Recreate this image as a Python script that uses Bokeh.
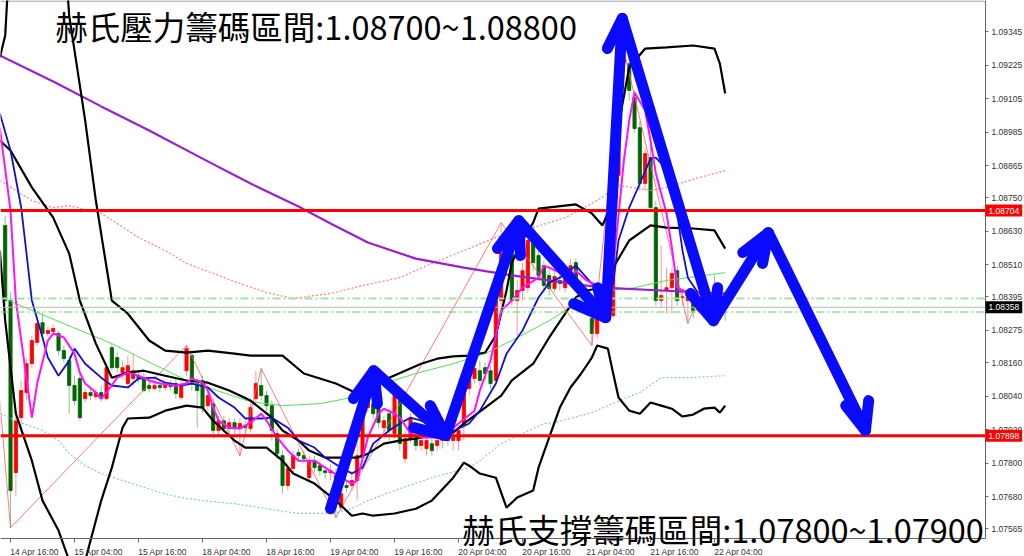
from bokeh.plotting import figure
from bokeh.models import Range1d, FixedTicker, PrintfTickFormatter, Label
from bokeh.embed import file_html
from bokeh.resources import INLINE

# ---------------- hourly candles (bar index 0..135) ----------------
opens = [1.08651, 1.08382, 1.07766, 1.07963, 1.08053, 1.08156, 1.08232, 1.08303, 1.08264, 1.08271,
         1.08264, 1.08203, 1.08167, 1.08078, 1.08103, 1.08031, 1.08053, 1.08038, 1.08053, 1.08031,
         1.08214, 1.08178, 1.08124, 1.08085, 1.08103, 1.08113, 1.08106, 1.08078, 1.08067, 1.08078,
         1.08071, 1.08078, 1.08085, 1.08035, 1.08131, 1.08185, 1.08085, 1.08096, 1.08006, 1.08013,
         1.07917, 1.07952, 1.07924, 1.07945, 1.07924, 1.07935, 1.07924, 1.08031, 1.08078, 1.08042,
         1.08006, 1.07906, 1.07827, 1.07720, 1.07781, 1.07838, 1.07827, 1.07748, 1.07809, 1.07791,
         1.07773, 1.07766, 1.07755, 1.07641, 1.07720, 1.07720, 1.07738, 1.07820, 1.07999, 1.08013,
         1.07995, 1.07927, 1.07977, 1.07906, 1.08024, 1.07816, 1.07888, 1.07892, 1.07863, 1.07852,
         1.07870, 1.07863, 1.07881, 1.07892, 1.07881, 1.07881, 1.07935, 1.08067, 1.08103, 1.08131,
         1.08142, 1.08131, 1.08096, 1.08382, 1.08543, 1.08550, 1.08382, 1.08418, 1.08428, 1.08633,
         1.08543, 1.08507, 1.08472, 1.08425, 1.08454, 1.08428, 1.08479, 1.08518, 1.08443, 1.08418,
         1.08318, 1.08264, 1.08310, 1.08318, 1.08328, 1.08830, 1.09234, 1.09230, 1.09109, 1.09001,
         1.08801, 1.08894, 1.08715, 1.08382, 1.08418, 1.08428, 1.08489, 1.08393, 1.08382, 1.08393,
         1.08346, 1.08371, 1.08339, 1.08428, 1.08382, 1.08400]
closes = [1.08382, 1.07702, 1.07952, 1.08060, 1.08156, 1.08239, 1.08300, 1.08264, 1.08275, 1.08282,
          1.08203, 1.08174, 1.08078, 1.08024, 1.07963, 1.08053, 1.08042, 1.08053, 1.08031, 1.08142,
          1.08142, 1.08142, 1.08142, 1.08149, 1.08131, 1.08103, 1.08060, 1.08067, 1.08078, 1.08071,
          1.08078, 1.08074, 1.08049, 1.08078, 1.08210, 1.08085, 1.08060, 1.07999, 1.08042, 1.07917,
          1.07952, 1.07924, 1.07945, 1.07924, 1.07942, 1.07927, 1.07999, 1.08085, 1.08042, 1.08006,
          1.07917, 1.07834, 1.07720, 1.07781, 1.07827, 1.07827, 1.07816, 1.07809, 1.07784, 1.07773,
          1.07766, 1.07773, 1.07745, 1.07691, 1.07713, 1.07738, 1.07827, 1.07999, 1.08042, 1.07977,
          1.07945, 1.07952, 1.07917, 1.08042, 1.07870, 1.07888, 1.07960, 1.07863, 1.07881, 1.07881,
          1.07845, 1.07881, 1.07892, 1.07881, 1.07892, 1.07917, 1.08078, 1.08113, 1.08139, 1.08096,
          1.08121, 1.08085, 1.08382, 1.08550, 1.08507, 1.08382, 1.08418, 1.08489, 1.08597, 1.08518,
          1.08472, 1.08436, 1.08425, 1.08468, 1.08443, 1.08464, 1.08507, 1.08443, 1.08418, 1.08346,
          1.08264, 1.08318, 1.08335, 1.08339, 1.08830, 1.09241, 1.09248, 1.09134, 1.08998, 1.08801,
          1.08908, 1.08715, 1.08382, 1.08400, 1.08428, 1.08479, 1.08382, 1.08396, 1.08393, 1.08346,
          1.08371, 1.08339, 1.08375, 1.08382, 1.08400, 1.08358]
highs = [1.08686, 1.08411, 1.07970, 1.08096, 1.08174, 1.08257, 1.08318, 1.08339, 1.08292, 1.08296,
         1.08275, 1.08221, 1.08185, 1.08113, 1.08124, 1.08067, 1.08067, 1.08067, 1.08078, 1.08160,
         1.08228, 1.08196, 1.08167, 1.08185, 1.08192, 1.08131, 1.08124, 1.08096, 1.08096, 1.08096,
         1.08092, 1.08096, 1.08103, 1.08096, 1.08221, 1.08196, 1.08103, 1.08113, 1.08060, 1.08031,
         1.07970, 1.07970, 1.07963, 1.07960, 1.07960, 1.07952, 1.08017, 1.08131, 1.08139, 1.08060,
         1.08024, 1.07924, 1.07845, 1.07802, 1.07845, 1.07852, 1.07845, 1.07827, 1.07827, 1.07809,
         1.07791, 1.07798, 1.07781, 1.07709, 1.07738, 1.07773, 1.07881, 1.08024, 1.08131, 1.08031,
         1.08013, 1.07970, 1.07995, 1.08060, 1.08042, 1.07917, 1.07981, 1.07909, 1.07899, 1.07895,
         1.07888, 1.07895, 1.07906, 1.07909, 1.07917, 1.07935, 1.08113, 1.08131, 1.08167, 1.08167,
         1.08160, 1.08149, 1.08400, 1.08661, 1.08579, 1.08579, 1.08454, 1.08518, 1.08615, 1.08651,
         1.08561, 1.08525, 1.08497, 1.08497, 1.08525, 1.08489, 1.08532, 1.08532, 1.08461, 1.08436,
         1.08339, 1.08339, 1.08364, 1.08364, 1.08847, 1.09259, 1.09277, 1.09259, 1.09134, 1.09026,
         1.08926, 1.08955, 1.08740, 1.08579, 1.08500, 1.08497, 1.08507, 1.08418, 1.08418, 1.08411,
         1.08389, 1.08389, 1.08400, 1.08472, 1.08436, 1.08418]
lows = [1.08364, 1.07569, 1.07684, 1.07935, 1.08024, 1.08139, 1.08221, 1.08246, 1.08253, 1.08257,
        1.08185, 1.08160, 1.07977, 1.08006, 1.07952, 1.08017, 1.08024, 1.08028, 1.08020, 1.08024,
        1.08131, 1.08124, 1.08103, 1.08067, 1.08078, 1.08088, 1.08053, 1.08053, 1.08060, 1.08053,
        1.08060, 1.08060, 1.08031, 1.08024, 1.08113, 1.08060, 1.07927, 1.07981, 1.07988, 1.07888,
        1.07899, 1.07909, 1.07909, 1.07906, 1.07827, 1.07909, 1.07909, 1.08017, 1.08024, 1.07988,
        1.07881, 1.07816, 1.07691, 1.07702, 1.07766, 1.07809, 1.07802, 1.07738, 1.07766, 1.07755,
        1.07745, 1.07738, 1.07605, 1.07630, 1.07695, 1.07702, 1.07666, 1.07809, 1.07981, 1.07960,
        1.07924, 1.07909, 1.07881, 1.07888, 1.07845, 1.07802, 1.07874, 1.07845, 1.07845, 1.07827,
        1.07827, 1.07845, 1.07852, 1.07863, 1.07845, 1.07845, 1.07881, 1.08042, 1.08085, 1.08078,
        1.08096, 1.08067, 1.08085, 1.08364, 1.08472, 1.08364, 1.08257, 1.08382, 1.08411, 1.08489,
        1.08454, 1.08411, 1.08400, 1.08411, 1.08418, 1.08411, 1.08461, 1.08428, 1.08382, 1.08328,
        1.08221, 1.08246, 1.08303, 1.08310, 1.08318, 1.08812, 1.09170, 1.09098, 1.08983, 1.08776,
        1.08776, 1.08704, 1.08364, 1.08357, 1.08335, 1.08335, 1.08364, 1.08364, 1.08300, 1.08318,
        1.08335, 1.08318, 1.08318, 1.08364, 1.08371, 1.08310]
bars = list(range(len(opens)))

# ---------------- indicators (bar index, price) ----------------
ma200_x = [-1, 9, 18, 27, 37, 46, 55, 61, 68, 77, 86, 95, 105, 112, 123, 135]
ma200_y = [1.09259, 1.09166, 1.09077, 1.08991, 1.08890, 1.08801, 1.08719, 1.08658, 1.08590, 1.08532,
           1.08500, 1.08472, 1.08446, 1.08428, 1.08418, 1.08407]

ma_blue_x = [-1, 1, 3, 4, 5, 7, 8, 10, 12, 13, 15, 18, 20, 23, 25, 28, 30, 33, 35, 38, 40, 43, 45, 48, 50,
             53, 55, 58, 60, 63, 65, 67, 69, 72, 74, 76, 78, 83, 87, 89, 92, 94, 97, 100, 102, 104, 107,
             110, 112, 114, 115, 117, 119, 121, 122, 123, 125, 126, 127, 128, 130, 135]
ma_blue_y = [1.09052, 1.08919, 1.08715, 1.08550, 1.08382, 1.08250, 1.08178, 1.08113, 1.08167, 1.08210,
             1.08156, 1.08106, 1.08078, 1.08071, 1.08103, 1.08106, 1.08088, 1.08078, 1.08085, 1.08071,
             1.08035, 1.07999, 1.07960, 1.07960, 1.07963, 1.07927, 1.07881, 1.07856, 1.07820, 1.07784,
             1.07763, 1.07784, 1.07870, 1.07917, 1.07942, 1.07963, 1.07952, 1.07906, 1.07942, 1.07988,
             1.08085, 1.08192, 1.08275, 1.08393, 1.08446, 1.08464, 1.08507, 1.08443, 1.08393, 1.08443,
             1.08597, 1.08715, 1.08801, 1.08890, 1.08894, 1.08873, 1.08787, 1.08694, 1.08561, 1.08464,
             1.08407, 1.08382]

ma_magenta_x = [-1, 1, 2, 5, 6, 8, 9, 11, 13, 14, 15, 17, 18, 19, 21, 23, 25, 27, 29, 32, 34, 35, 37, 38,
                39, 40, 42, 44, 46, 48, 49, 51, 53, 55, 58, 60, 63, 65, 66, 68, 70, 71, 73, 74, 76, 78,
                82, 85, 88, 89, 91, 93, 95, 97, 100, 101, 102, 104, 106, 107, 109, 111, 113, 114, 115,
                116, 117, 118, 120, 121, 122, 124, 125, 126, 128, 130, 135]
ma_magenta_y = [1.09001, 1.08704, 1.08382, 1.07963, 1.08085, 1.08239, 1.08264, 1.08250, 1.08192, 1.08124,
                1.08085, 1.08053, 1.08031, 1.08053, 1.08106, 1.08124, 1.08113, 1.08096, 1.08085, 1.08078,
                1.08085, 1.08103, 1.08088, 1.08060, 1.07999, 1.07952, 1.07927, 1.07924, 1.07945, 1.07977,
                1.07952, 1.07892, 1.07845, 1.07809, 1.07809, 1.07784, 1.07748, 1.07727, 1.07738, 1.07892,
                1.07977, 1.07995, 1.07977, 1.07963, 1.07906, 1.07892, 1.07892, 1.07942, 1.07988, 1.08060,
                1.08167, 1.08346, 1.08382, 1.08428, 1.08464, 1.08507, 1.08500, 1.08482, 1.08464, 1.08489,
                1.08454, 1.08436, 1.08407, 1.08507, 1.08686, 1.08883, 1.09026, 1.09127, 1.09062, 1.08955,
                1.08837, 1.08694, 1.08572, 1.08428, 1.08411, 1.08407, 1.08389]

bb_mid_x = [-1, 1, 5, 9, 12, 14, 17, 20, 23, 26, 30, 34, 38, 42, 46, 50, 52, 55, 57, 60, 66, 68, 71, 74,
            77, 80, 84, 86, 90, 93, 95, 99, 102, 105, 107, 109, 112, 114, 117, 121, 124, 129, 133, 135]
bb_mid_y = [1.08955, 1.08919, 1.08787, 1.08679, 1.08550, 1.08382, 1.08228, 1.08106, 1.08124, 1.08131,
            1.08113, 1.08096, 1.08088, 1.08060, 1.08024, 1.07963, 1.07917, 1.07881, 1.07845, 1.07820,
            1.07820, 1.07834, 1.07870, 1.07881, 1.07888, 1.07899, 1.07909, 1.07942, 1.07999, 1.08042,
            1.08096, 1.08156, 1.08250, 1.08335, 1.08393, 1.08418, 1.08428, 1.08500, 1.08597, 1.08651,
            1.08643, 1.08640, 1.08633, 1.08568]

bb_up_x = [-1, 0, 1, 11, 12, 15, 17, 20, 23, 27, 30, 34, 38, 43, 46, 52, 56, 62, 66, 70, 72, 75, 78, 81,
           84, 87, 90, 92, 94, 95, 97, 99, 100, 107, 110, 112, 114, 115, 117, 120, 124, 129, 133, 134, 135]
bb_up_y = [1.09252, 1.09331, 1.09671, 1.09671, 1.09402, 1.09026, 1.08740, 1.08382, 1.08335, 1.08239,
           1.08203, 1.08196, 1.08203, 1.08192, 1.08185, 1.08185, 1.08121, 1.08085, 1.08049, 1.08085,
           1.08106, 1.08131, 1.08156, 1.08174, 1.08182, 1.08185, 1.08196, 1.08257, 1.08418, 1.08518,
           1.08597, 1.08661, 1.08711, 1.08726, 1.08694, 1.08651, 1.08740, 1.09009, 1.09216, 1.09284,
           1.09288, 1.09295, 1.09284, 1.09230, 1.09123]

bb_low_x = [-1, 0, 2, 5, 7, 10, 12, 15, 18, 20, 22, 23, 27, 30, 34, 37, 39, 43, 45, 49, 52, 54, 58, 62,
            65, 67, 69, 73, 77, 80, 84, 86, 87, 89, 92, 94, 96, 99, 100, 102, 104, 106, 108, 110, 111,
            113, 114, 115, 117, 119, 121, 123, 125, 127, 129, 131, 133, 134, 135]
bb_low_y = [1.08561, 1.08310, 1.07977, 1.07809, 1.07666, 1.07559, 1.07451, 1.07451, 1.07666, 1.07784,
            1.07927, 1.07960, 1.07963, 1.07988, 1.08006, 1.07999, 1.07952, 1.07881, 1.07856, 1.07856,
            1.07809, 1.07763, 1.07727, 1.07666, 1.07612, 1.07620, 1.07612, 1.07620, 1.07637, 1.07666,
            1.07748, 1.07802, 1.07791, 1.07763, 1.07748, 1.07641, 1.07677, 1.07702, 1.07784, 1.07892,
            1.07999, 1.08071, 1.08121, 1.08178, 1.08221, 1.08210, 1.08121, 1.08035, 1.07988, 1.07977,
            1.08017, 1.08006, 1.07995, 1.07967, 1.07974, 1.07995, 1.07999, 1.07981, 1.08006]

ma_green_x = [0, 2, 20, 34, 46, 52, 59, 65, 71, 77, 84, 90, 95, 102, 108, 113, 118, 124, 135]
ma_green_y = [1.08389, 1.08371, 1.08228, 1.08096, 1.08020, 1.08006, 1.08013, 1.08035, 1.08085, 1.08121,
              1.08156, 1.08192, 1.08239, 1.08310, 1.08382, 1.08418, 1.08428, 1.08454, 1.08482]

env_red_x = [-1, 5, 9, 12, 18, 21, 25, 30, 34, 39, 44, 49, 54, 58, 61, 67, 74, 80, 86, 92, 99, 105, 111,
             115, 121, 124, 127, 130, 135]
env_red_y = [1.08812, 1.08740, 1.08715, 1.08722, 1.08694, 1.08658, 1.08608, 1.08561, 1.08515, 1.08479,
             1.08443, 1.08411, 1.08389, 1.08400, 1.08407, 1.08436, 1.08464, 1.08515, 1.08561, 1.08608,
             1.08643, 1.08679, 1.08740, 1.08794, 1.08776, 1.08787, 1.08804, 1.08822, 1.08847]

env_blue_x = [-1, 3, 7, 10, 12, 15, 18, 22, 25, 29, 33, 37, 43, 49, 55, 61, 64, 68, 74, 80, 87, 89, 93,
              101, 103, 110, 116, 119, 123, 128, 135]
env_blue_y = [1.07977, 1.07945, 1.07917, 1.07881, 1.07834, 1.07791, 1.07763, 1.07738, 1.07720, 1.07695,
              1.07677, 1.07666, 1.07655, 1.07637, 1.07620, 1.07620, 1.07630, 1.07666, 1.07709, 1.07748,
              1.07784, 1.07809, 1.07870, 1.07942, 1.07945, 1.07981, 1.08031, 1.08053, 1.08106, 1.08106,
              1.08113]

zigzag_x = [-1, 1, 34, 44, 48, 62, 93, 110, 116, 128, 130]
zigzag_y = [1.08024, 1.07569, 1.08221, 1.07827, 1.08139, 1.07605, 1.08661, 1.08221, 1.09277, 1.08300, 1.08389]

# ---------------- levels ----------------
resistance = 1.08704
support = 1.07898
last_price = 1.08358
green_levels = [1.08389, 1.08341]

# ---------------- hand-drawn forecast arrows (bar index, price) ----------------
arrow_path_x = [61.0, 69.1, 82.6, 96.3, 112.6, 115.7, 132.8, 143.1, 161.3]
arrow_path_y = [1.07637, 1.08131, 1.07899, 1.08668, 1.08321, 1.09392, 1.08310, 1.08625, 1.07917]
arrow_heads_x = [[65.3, 69.1, 69.8], [79.7, 82.6, 76.6], [92.3, 96.3, 96.6], [106.6, 112.6, 111.1],
                 [112.9, 115.7], [128.5, 132.8, 133.6], [138.3, 143.1, 142.0], [157.6, 161.3, 161.9]]
arrow_heads_y = [[1.08031, 1.08131, 1.08013], [1.08006, 1.07899, 1.07927], [1.08568, 1.08668, 1.08543],
                 [1.08371, 1.08321, 1.08428], [1.09284, 1.09392], [1.08407, 1.08310, 1.08428],
                 [1.08554, 1.08625, 1.08515], [1.08006, 1.07917, 1.08024]]

# ---------------- axes ----------------
x_tick_bars = [1, 13, 25, 37, 49, 61, 73, 85, 97, 109, 121, 133]
x_tick_labels = ["14 Apr 16:00", "15 Apr 04:00", "15 Apr 16:00", "18 Apr 04:00", "18 Apr 16:00",
                 "19 Apr 04:00", "19 Apr 16:00", "20 Apr 04:00", "20 Apr 16:00", "21 Apr 04:00",
                 "21 Apr 16:00", "22 Apr 04:00"]
y_ticks = [1.09345, 1.09225, 1.09105, 1.08985, 1.08865, 1.08750, 1.08630, 1.08510, 1.08395,
           1.08275, 1.08160, 1.08040, 1.07920, 1.07800, 1.07680, 1.07565]

title_top = "赫氏壓力籌碼區間:1.08700~1.08800"
title_bottom = "赫氏支撐籌碼區間:1.07800~1.07900"

# ---------------- layout constants ----------------
X0, X1 = -0.88, 191.12          # visible bar span of the whole canvas
Y0, Y1 = 1.07466, 1.09456       # visible price span of the whole canvas
AXIS_X = 183.81                 # price axis position (chart right edge)
AXIS_Y = 1.07530                # time axis position (chart bottom edge)

p = figure(width=1024, height=556,
           x_range=Range1d(X0, X1), y_range=Range1d(Y0, Y1),
           y_axis_location="right", output_backend="svg", toolbar_location=None,
           min_border_left=0, min_border_top=0, min_border_right=0, min_border_bottom=0)
p.background_fill_color = "white"
p.border_fill_color = "white"
p.outline_line_color = None
p.xgrid.visible = False
p.ygrid.visible = False

# top border of chart
p.segment(x0=[X0], y0=[Y1 - 0.00002], x1=[AXIS_X], y1=[Y1 - 0.00002], line_color="#8a8a8a", line_width=1)

# candles
tops = [max(o, c) for o, c in zip(opens, closes)]
bots = [min(o, c) for o, c in zip(opens, closes)]
up = [c > o for o, c in zip(opens, closes)]
body_col = ["#ff0000" if u else "#006400" for u in up]
wick_col = ["#ff9a9a" if u else "#93bf93" for u in up]
p.segment(x0=bars, y0=lows, x1=bars, y1=highs, line_color=wick_col, line_width=1)
p.vbar(x=bars, width=0.6, top=tops, bottom=bots, fill_color=body_col, line_color=body_col, line_width=0.8)

# indicators
p.line(env_blue_x, env_blue_y, line_color="#87c5f5", line_width=1.2, line_dash="2 2")
p.line(env_red_x, env_red_y, line_color="#ff7f7f", line_width=1.2, line_dash="2 2")
p.line(ma_green_x, ma_green_y, line_color="#55e055", line_width=1)
p.line(zigzag_x, zigzag_y, line_color="#ff5a5a", line_width=0.8)
p.line(ma200_x, ma200_y, line_color="#9a1fd0", line_width=2.2)
for xs, ys in ((bb_up_x, bb_up_y), (bb_mid_x, bb_mid_y), (bb_low_x, bb_low_y)):
    p.line(xs, ys, line_color="black", line_width=2.2)
p.line(ma_blue_x, ma_blue_y, line_color="#1010d0", line_width=1.8)
p.line(ma_magenta_x, ma_magenta_y, line_color="#ff10ff", line_width=2)

# horizontal levels (chart area only)
p.segment(x0=[X0], y0=[green_levels[0]], x1=[AXIS_X], y1=[green_levels[0]],
          line_color="#9ee39e", line_width=2, line_dash="8 3 2 3")
p.segment(x0=[X0], y0=[last_price], x1=[AXIS_X], y1=[last_price], line_color="#b8b8b8", line_width=1)
p.segment(x0=[X0], y0=[green_levels[1]], x1=[AXIS_X], y1=[green_levels[1]],
          line_color="#5fcf5f", line_width=1, line_dash="8 3 2 3")
p.segment(x0=[X0, X0], y0=[resistance, support], x1=[AXIS_X, AXIS_X], y1=[resistance, support],
          line_color="#ff0000", line_width=3)

# arrows
p.line(arrow_path_x, arrow_path_y, line_color="#0a0aff", line_width=11,
       line_join="round", line_cap="round")
p.multi_line(arrow_heads_x, arrow_heads_y, line_color="#0a0aff", line_width=11,
             line_join="round", line_cap="round")

# axes, drawn at fixed positions inside the canvas
centers = [b + 4.5 for b in x_tick_bars]
p.xaxis.fixed_location = AXIS_Y
p.xaxis.bounds = (X0, AXIS_X)
p.xaxis.ticker = FixedTicker(ticks=centers, minor_ticks=x_tick_bars)
p.xaxis.major_label_overrides = {c: lab for c, lab in zip(centers, x_tick_labels)}
p.xaxis.major_tick_line_color = None
p.xaxis.major_tick_out = 0
p.xaxis.major_tick_in = 0
p.xaxis.minor_tick_out = 4
p.xaxis.minor_tick_in = 0
p.xaxis.minor_tick_line_color = "#666666"
p.xaxis.major_label_standoff = 4
p.xaxis.axis_line_color = "#666666"

p.yaxis.fixed_location = AXIS_X
p.yaxis.bounds = (AXIS_Y, Y1)
p.yaxis.ticker = FixedTicker(ticks=y_ticks, minor_ticks=[])
p.yaxis.formatter = PrintfTickFormatter(format="%.5f")
p.yaxis.major_tick_out = 3
p.yaxis.major_tick_in = 0
p.yaxis.minor_tick_line_color = None
p.yaxis.major_label_standoff = 3
p.yaxis.axis_line_color = "#666666"
p.yaxis.major_tick_line_color = "#666666"

for ax in (p.xaxis[0], p.yaxis[0]):
    ax.major_label_text_font = "Liberation Sans"
    ax.major_label_text_font_size = "8.5px"
    ax.major_label_text_color = "#333333"

# price tags on the axis
for val, col in ((resistance, "#ff0000"), (last_price, "#000000"), (support, "#ff0000")):
    p.add_layout(Label(x=AXIS_X, y=val, text="%.5f" % val, text_color="white",
                       text_font="Liberation Sans", text_font_size="8.5px",
                       text_align="left", text_baseline="middle",
                       background_fill_color=col, padding=3))

# titles
p.add_layout(Label(x=9.4, y=1.09368, text=title_top, text_font="Noto Sans CJK TC",
                   text_font_size="32.5px", text_color="black", text_align="left", text_baseline="middle"))
p.add_layout(Label(x=85.7, y=1.07566, text=title_bottom, text_font="Noto Sans CJK TC",
                   text_font_size="32.5px", text_color="black", text_align="left", text_baseline="middle"))

open("out.html", "w").write(file_html(p, INLINE))
